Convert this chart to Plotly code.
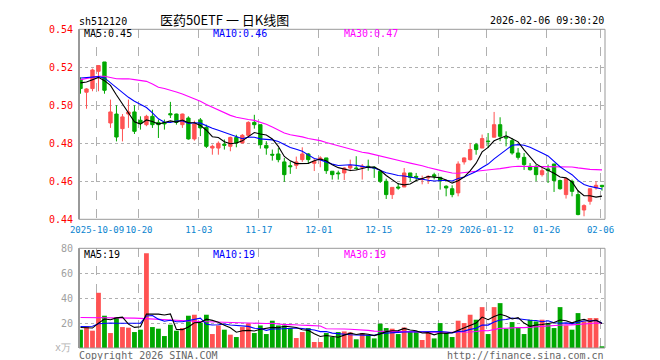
import pandas as pd
import numpy as np
import plotly.graph_objects as go

# ---------------- data ----------------
holidays = pd.to_datetime(["2025-10-01", "2025-10-02", "2025-10-03", "2025-10-06", "2025-10-07",
                           "2025-10-08", "2026-01-01", "2026-01-02"])
all_days = pd.bdate_range("2025-09-26", "2026-02-06")
dates = [d for d in all_days if d not in holidays]

opens = [0.5135, 0.5069, 0.5088, 0.5179, 0.5228, 0.4907, 0.4954, 0.4877, 0.4954, 0.4965,
         0.4921, 0.4898, 0.4942, 0.4910, 0.4910, 0.4956, 0.4954, 0.4898, 0.4933, 0.4823,
         0.4923, 0.4884, 0.4775, 0.4775, 0.4795, 0.4784, 0.4831, 0.4802, 0.4842, 0.4910,
         0.4898, 0.4789, 0.4742, 0.4744, 0.4702, 0.4682, 0.4684, 0.4714, 0.4744, 0.4695,
         0.4714, 0.4723, 0.4653, 0.4644, 0.4644, 0.4670, 0.4670, 0.4674, 0.4679, 0.4674,
         0.4653, 0.4600, 0.4530, 0.4570, 0.4570, 0.4644, 0.4626, 0.4609, 0.4618, 0.4634,
         0.4621, 0.4574, 0.4561, 0.4539, 0.4702, 0.4714, 0.4793, 0.4775, 0.4812, 0.4832,
         0.4898, 0.4832, 0.4814, 0.4749, 0.4726, 0.4679, 0.4679, 0.4635, 0.4665, 0.4691,
         0.4604, 0.4530, 0.4600, 0.4530, 0.4449, 0.4495, 0.4565, 0.4579]
highs = [0.5147, 0.5090, 0.5193, 0.5212, 0.5228, 0.5030, 0.5000, 0.4954, 0.5030, 0.5000,
         0.4942, 0.4950, 0.4977, 0.4925, 0.4925, 0.5018, 0.4956, 0.4956, 0.4942, 0.4919,
         0.4933, 0.4898, 0.4793, 0.4810, 0.4820, 0.4835, 0.4845, 0.4849, 0.4916, 0.4950,
         0.4898, 0.4811, 0.4767, 0.4775, 0.4723, 0.4705, 0.4730, 0.4779, 0.4749, 0.4719,
         0.4732, 0.4723, 0.4653, 0.4656, 0.4674, 0.4714, 0.4732, 0.4691, 0.4714, 0.4679,
         0.4653, 0.4614, 0.4568, 0.4591, 0.4670, 0.4644, 0.4644, 0.4630, 0.4632, 0.4645,
         0.4621, 0.4579, 0.4579, 0.4705, 0.4726, 0.4802, 0.4802, 0.4846, 0.4854, 0.4965,
         0.4937, 0.4863, 0.4828, 0.4775, 0.4749, 0.4696, 0.4688, 0.4679, 0.4688, 0.4691,
         0.4609, 0.4618, 0.4609, 0.4551, 0.4479, 0.4561, 0.4600, 0.4579]
lows = [0.5061, 0.4982, 0.5074, 0.5074, 0.5061, 0.4881, 0.4810, 0.4810, 0.4881, 0.4849,
        0.4872, 0.4890, 0.4881, 0.4828, 0.4872, 0.4933, 0.4898, 0.4881, 0.4819, 0.4814,
        0.4838, 0.4775, 0.4740, 0.4740, 0.4767, 0.4758, 0.4779, 0.4798, 0.4828, 0.4877,
        0.4772, 0.4740, 0.4709, 0.4700, 0.4597, 0.4639, 0.4665, 0.4702, 0.4691, 0.4654,
        0.4674, 0.4639, 0.4609, 0.4609, 0.4607, 0.4653, 0.4661, 0.4609, 0.4656, 0.4618,
        0.4591, 0.4507, 0.4507, 0.4556, 0.4570, 0.4600, 0.4600, 0.4584, 0.4586, 0.4610,
        0.4556, 0.4521, 0.4516, 0.4521, 0.4688, 0.4709, 0.4740, 0.4775, 0.4775, 0.4832,
        0.4811, 0.4784, 0.4740, 0.4714, 0.4660, 0.4656, 0.4600, 0.4625, 0.4591, 0.4544,
        0.4556, 0.4509, 0.4521, 0.4421, 0.4416, 0.4477, 0.4556, 0.4551]
closes = [0.5088, 0.5086, 0.5186, 0.5209, 0.5079, 0.4965, 0.4833, 0.4939, 0.4965, 0.4863,
          0.4905, 0.4942, 0.4898, 0.4898, 0.4902, 0.4950, 0.4910, 0.4954, 0.4823, 0.4902,
          0.4881, 0.4784, 0.4784, 0.4800, 0.4790, 0.4831, 0.4802, 0.4842, 0.4910, 0.4898,
          0.4793, 0.4775, 0.4738, 0.4714, 0.4635, 0.4677, 0.4702, 0.4744, 0.4714, 0.4705,
          0.4723, 0.4656, 0.4635, 0.4640, 0.4670, 0.4684, 0.4667, 0.4679, 0.4674, 0.4670,
          0.4600, 0.4530, 0.4568, 0.4565, 0.4644, 0.4621, 0.4621, 0.4614, 0.4626, 0.4627,
          0.4604, 0.4565, 0.4530, 0.4691, 0.4723, 0.4767, 0.4767, 0.4825, 0.4809, 0.4898,
          0.4837, 0.4828, 0.4749, 0.4726, 0.4688, 0.4661, 0.4635, 0.4656, 0.4656, 0.4604,
          0.4561, 0.4614, 0.4547, 0.4425, 0.4472, 0.4561, 0.4579, 0.4572]
volumes = [14.7, 17.3, 13.9, 44.3, 25.9, 12.0, 24.8, 16.8, 16.3, 12.8,
           14.7, 76.0, 16.8, 15.5, 9.6, 18.7, 13.9, 16.0, 25.9, 26.7,
           20.3, 26.7, 11.2, 18.1, 14.7, 10.7, 8.8, 16.8, 19.7, 12.0,
           18.1, 11.2, 21.9, 18.1, 18.1, 16.0, 8.0, 12.8, 16.0, 4.8,
           4.8, 12.0, 8.8, 12.8, 13.3, 12.5, 7.0, 12.0, 10.4, 7.7,
           19.5, 16.0, 15.5, 11.2, 16.5, 12.8, 13.3, 6.4, 12.5, 7.7,
           20.0, 12.0, 8.8, 21.9, 20.0, 26.7, 22.7, 32.8, 11.2, 32.8,
           36.0, 15.5, 20.8, 16.5, 11.2, 22.7, 21.3, 22.7, 19.5, 16.0,
           32.8, 18.1, 14.7, 28.0, 21.3, 24.0, 24.0, 1.3]

# moving-average values at the start of the window (earlier history not shown)
ma5_head = [0.5118, 0.5123, 0.5135, 0.5147]
ma10_head = [0.5144, 0.5147, 0.5147, 0.5151, 0.5144, 0.5118, 0.5091, 0.5065, 0.5042]
ma30_head = [0.5135, 0.5140, 0.5147, 0.5153, 0.5153, 0.5147, 0.5140, 0.5139, 0.5140, 0.5135,
             0.5130, 0.5126, 0.5112, 0.5095, 0.5088, 0.5077, 0.5070, 0.5060, 0.5047, 0.5035,
             0.5021, 0.5004, 0.4990, 0.4977, 0.4960, 0.4947, 0.4937, 0.4930, 0.4925]
vma5_head = [16.5, 16.5, 16.0, 20.0]
vma10_head = [17.3, 17.3, 17.5, 19.5, 20.0, 20.0, 19.8, 19.8, 19.7]
vma30_head = [24.5, 24.5, 24.4, 24.4, 24.3, 24.2, 24.2, 24.1, 24.0, 24.0,
              23.8, 23.5, 23.0, 22.7, 22.5, 22.3, 22.0, 21.8, 21.6, 21.5,
              21.3, 21.1, 20.9, 20.8, 20.6, 20.4, 20.2, 20.0, 19.9]

tick_dates = ["2025-10-09", "2025-10-20", "2025-11-03", "2025-11-17", "2025-12-01",
              "2025-12-15", "2025-12-29", "2026-01-12", "2026-01-26", "2026-02-06"]
tick_labels = ["2025-10-09", "10-20", "11-03", "11-17", "12-01",
               "12-15", "12-29", "2026-01-12", "01-26", "02-06"]
price_ticks = [0.44, 0.46, 0.48, 0.50, 0.52, 0.54]
vol_ticks = [20, 40, 60, 80]

# ---------------- derived ----------------
x = np.arange(len(dates))
date_str = [d.strftime("%Y-%m-%d") for d in dates]


def moving(vals, n, head):
    s = pd.Series(vals).rolling(n).mean().to_numpy()
    s[:len(head)] = head
    return s


ma5 = moving(closes, 5, ma5_head)
ma10 = moving(closes, 10, ma10_head)
ma30 = moving(closes, 30, ma30_head)
vma5 = moving(volumes, 5, vma5_head)
vma10 = moving(volumes, 10, vma10_head)
vma30 = moving(volumes, 30, vma30_head)

RED = "#ff5252"
GREEN = "#00a800"
vol_colors = [RED if c >= o else GREEN for o, c in zip(opens, closes)]
tick_pos = [date_str.index(d) - 0.25 for d in tick_dates]

MONO = "DejaVu Sans Mono"
W, H = 660, 360
L, R, T, B = 71, 63, 21, 20
PW, PH = W - L - R, H - T - B


def px(xp):
    return (xp - L) / PW


def py(yp):
    return (H - B - yp) / PH


fig = go.Figure()
fig.add_trace(go.Candlestick(
    x=x, open=opens, high=highs, low=lows, close=closes,
    increasing=dict(line=dict(color=RED, width=1), fillcolor=RED),
    decreasing=dict(line=dict(color=GREEN, width=1), fillcolor=GREEN),
    whiskerwidth=0, hoverinfo="skip", xaxis="x", yaxis="y"))
for ys, col in [(ma30, "#ff00ff"), (ma10, "#0000ff"), (ma5, "#000000")]:
    fig.add_trace(go.Scatter(x=x, y=ys, mode="lines", line=dict(color=col, width=1.1),
                             hoverinfo="skip", xaxis="x", yaxis="y"))
fig.add_trace(go.Bar(x=x, y=volumes, marker=dict(color=vol_colors, line=dict(width=0)),
                     width=0.8, hoverinfo="skip", xaxis="x2", yaxis="y2"))
for ys, col in [(vma30, "#ff00ff"), (vma10, "#0000ff"), (vma5, "#000000")]:
    fig.add_trace(go.Scatter(x=x, y=ys, mode="lines", line=dict(color=col, width=1.1),
                             hoverinfo="skip", xaxis="x2", yaxis="y2"))

xr = [-0.25, len(dates) - 0.5]
price_dom = [py(211.3), py(21.3)]
vol_dom = [0, py(240.3)]

common_x = dict(range=xr, tickmode="array", tickvals=tick_pos, showgrid=True,
                gridcolor="#b0b0b0", griddash="dash", gridwidth=1, zeroline=False,
                showline=False, ticks="", fixedrange=True)
fig.update_layout(
    width=W, height=H, margin=dict(l=L, r=R, t=T, b=B),
    paper_bgcolor="white", plot_bgcolor="white", showlegend=False,
    boxgap=0.2,
    xaxis=dict(**common_x, anchor="y", ticktext=tick_labels, tickangle=0,
               tickfont=dict(family=MONO, size=9, color="#0a84d0"),
               rangeslider=dict(visible=False), ticklabelstandoff=4),
    xaxis2=dict(**common_x, anchor="y2", matches="x", showticklabels=False),
    yaxis=dict(domain=price_dom, range=[0.44, 0.54], tickmode="array", tickvals=price_ticks,
               tickformat=".2f", tickfont=dict(family=MONO, size=10, color="#ff0000"),
               showgrid=True, gridcolor="#b0b0b0", griddash="dot", zeroline=False,
               ticks="", ticklabelstandoff=5, fixedrange=True),
    yaxis2=dict(domain=vol_dom, range=[0, 80], tickmode="array", tickvals=vol_ticks,
                tickfont=dict(family=MONO, size=10, color="#a0a0a0"),
                showgrid=True, gridcolor="#b0b0b0", griddash="dot", zeroline=False,
                ticks="", ticklabelstandoff=5, fixedrange=True),
)

shapes = []
for d in (price_dom, vol_dom):
    shapes.append(dict(type="rect", xref="paper", yref="paper", x0=0, x1=1, y0=d[0], y1=d[1],
                       line=dict(color="#999999", width=1)))
    shapes.append(dict(type="line", xref="paper", yref="paper", x0=0, x1=0, y0=d[0], y1=d[1],
                       line=dict(color="#999999", width=2)))
fig.update_layout(shapes=shapes)


def ann(text, xp, yp, color="#000000", size=10, family=MONO, xanchor="left"):
    fig.add_annotation(text=text, x=px(xp), y=py(yp), xref="paper", yref="paper",
                       xanchor=xanchor, yanchor="middle", showarrow=False,
                       font=dict(family=family, size=size, color=color))


ann("sh512120", 69, 13)
ann("医药50ETF 一 日K线图", 216, 12, size=13, family="Noto Sans CJK SC", xanchor="center")
ann("2026-02-06 09:30:20", 598, 12.5, xanchor="right")
ann("MA5:0.45", 74, 26)
ann("MA10:0.46", 203, 26, color="#0000ff")
ann("MA30:0.47", 334, 26, color="#ff00ff")
ann("MA5:19", 74, 246)
ann("MA10:19", 203, 246, color="#0000ff")
ann("MA30:19", 334, 246, color="#ff00ff")
ann("x万", 65, 339, color="#b0b0b0", xanchor="right")
ann("Copyright 2026 SINA.COM", 69, 347, color="#666666")
ann("http://finance.sina.com.cn", 598, 347, color="#666666", xanchor="right")

fig.write_html("out.html")
